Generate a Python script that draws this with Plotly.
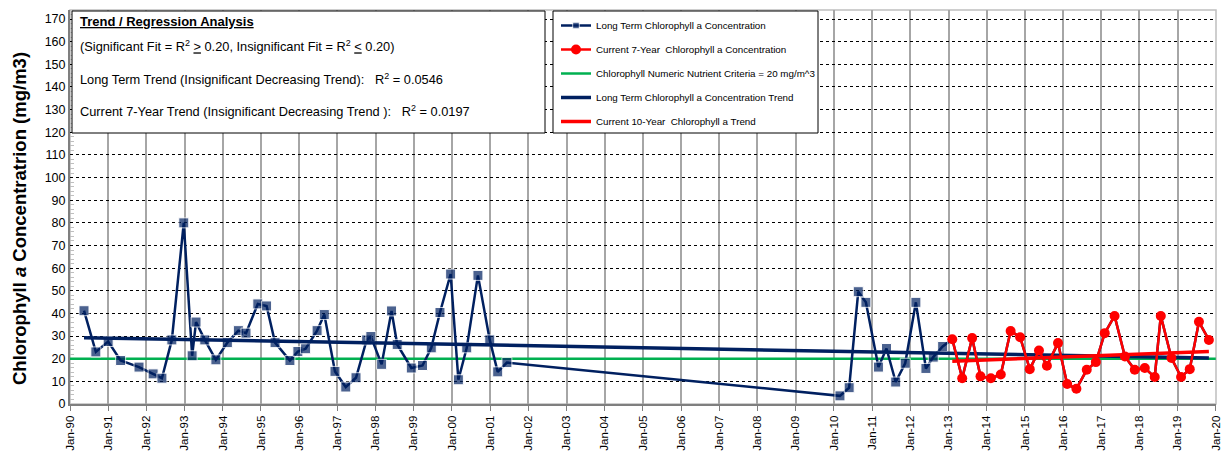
import plotly.graph_objects as go

# ---- Chlorophyll a samples (mg/m3) ----
long_term_dates = [
    "1990-05-15", "1990-09-05", "1991-01-01", "1991-04-30", "1991-10-23",
    "1992-03-06", "1992-05-29", "1992-09-01", "1992-12-24", "1993-03-14",
    "1993-04-20", "1993-07-13", "1993-10-27", "1994-02-14", "1994-05-30",
    "1994-08-11", "1994-12-02", "1995-02-24", "1995-05-16", "1995-10-05",
    "1995-12-20", "1996-03-03", "1996-06-21", "1996-08-29", "1996-12-09",
    "1997-03-22", "1997-06-28", "1997-10-08", "1997-11-17", "1998-02-28",
    "1998-06-03", "1998-07-27", "1998-12-09", "1999-03-26", "1999-06-18",
    "1999-09-09", "1999-12-20", "2000-03-03", "2000-05-22", "2000-09-06",
    "2000-12-28", "2001-03-14", "2001-06-10",
    "2010-02-28", "2010-05-27", "2010-08-22", "2010-11-03", "2011-03-03",
    "2011-05-19", "2011-08-15", "2011-11-14", "2012-02-24", "2012-05-30",
    "2012-08-08", "2012-11-06",
]
long_term_values = [
    41.2, 23.0, 27.6, 19.2, 16.3,
    13.3, 11.4, 28.3, 80.0, 21.3,
    36.2, 28.3, 19.5, 27.1, 32.4,
    31.3, 44.2, 43.3, 27.1, 19.2,
    23.2, 24.4, 32.4, 39.5, 14.4,
    7.5, 11.6, 28.3, 29.8, 17.5,
    41.1, 26.3, 15.9, 17.0, 24.8,
    40.4, 57.4, 10.7, 24.8, 56.8,
    28.3, 14.2, 18.3,
    3.6, 7.2, 49.6, 44.9, 16.3,
    24.5, 9.7, 18.0, 44.9, 15.7,
    20.7, 25.4,
]

recent_dates = [
    "2013-02-06", "2013-05-12", "2013-08-15", "2013-11-03",
    "2014-02-10", "2014-05-16", "2014-08-18", "2014-11-17",
    "2015-02-17", "2015-05-16", "2015-07-31", "2015-11-14",
    "2016-02-10", "2016-05-08", "2016-08-15", "2016-11-10",
    "2017-02-03", "2017-05-08", "2017-08-15", "2017-11-17",
    "2018-02-21", "2018-05-27", "2018-07-24", "2018-11-03",
    "2019-02-03", "2019-04-27", "2019-07-24", "2019-10-27",
]
recent_values = [
    28.6, 11.4, 29.1, 12.2,
    11.4, 13.0, 32.2, 29.5,
    15.4, 23.6, 16.9, 26.9,
    8.8, 6.7, 15.1, 18.5,
    31.3, 38.9, 21.0, 15.1,
    15.9, 11.9, 38.9, 20.3,
    11.9, 15.4, 36.3, 28.3,
]

# Linear trend end points
long_trend_dates = ["1990-05-15", "2019-10-27"]
long_trend_values = [29.3, 20.3]
recent_trend_dates = ["2013-02-06", "2019-10-27"]
recent_trend_values = [18.9, 23.2]

criteria_dates = ["1990-01-01", "2020-01-01"]
criteria_values = [20, 20]

NAVY = "#002060"
RED = "#FF0000"
GREEN = "#00B050"
FONT = "Liberation Sans, Arial, sans-serif"

W, H = 1221, 457
ML, MR, MT, MB = 70, 5, 10, 53
PW, PH = W - ML - MR, H - MT - MB


def px_x(p):
    return (p - ML) / PW


def px_y(p):
    return (H - MB - p) / PH


fig = go.Figure()

# long-term series runs through the whole record; its squares are only
# shown for the years before the current 7-year window
all_dates = long_term_dates + recent_dates
all_values = long_term_values + recent_values
blue_sizes = [10] * len(long_term_dates) + [0] * len(recent_dates)

fig.add_trace(go.Scatter(
    x=criteria_dates, y=criteria_values, mode="lines",
    name="Chlorophyll Numeric Nutrient Criteria = 20 mg/m^3",
    line=dict(color=GREEN, width=2.5), legendrank=3, legendgroup="c",
))
fig.add_trace(go.Scatter(
    x=all_dates, y=all_values, mode="lines+markers",
    name="Long Term Chlorophyll a Concentration",
    line=dict(color=NAVY, width=2.5),
    marker=dict(symbol="square", size=blue_sizes, color=NAVY),
    legendrank=1, legendgroup="a",
))
fig.add_trace(go.Scatter(
    x=long_trend_dates, y=long_trend_values, mode="lines",
    name="Long Term Chlorophyll a Concentration Trend",
    line=dict(color=NAVY, width=3.5), legendrank=4, legendgroup="d",
))
fig.add_trace(go.Scatter(
    x=recent_dates, y=recent_values, mode="lines+markers",
    name="Current 7-Year  Chlorophyll a Concentration",
    line=dict(color=RED, width=2.5),
    marker=dict(symbol="circle", size=10, color=RED),
    legendrank=2, legendgroup="b",
))
fig.add_trace(go.Scatter(
    x=recent_trend_dates, y=recent_trend_values, mode="lines",
    name="Current 10-Year  Chlorophyll a Trend",
    line=dict(color=RED, width=3.5), legendrank=5, legendgroup="e",
))

shapes = [
    # plot frame
    dict(type="rect", xref="paper", yref="paper", x0=0, x1=1, y0=0, y1=1,
         line=dict(color="#BFBFBF", width=1.5), layer="below"),
    # regression text box
    dict(type="rect", xref="paper", yref="paper",
         x0=px_x(72), x1=px_x(545), y0=px_y(133), y1=px_y(11),
         line=dict(color="black", width=1), fillcolor="white", layer="above"),
    # legend box
    dict(type="rect", xref="paper", yref="paper",
         x0=px_x(553), x1=px_x(818), y0=px_y(133), y1=px_y(11),
         line=dict(color="black", width=1), fillcolor="white", layer="above"),
]

box_lines = [
    ("<b><u>Trend / Regression Analysis</u></b>", 22, 13),
    ("(Significant Fit = R<sup>2</sup> <u>></u> 0.20, Insignificant Fit = R<sup>2</sup> <u><</u> 0.20)", 46, 12.8),
    ("Long Term Trend (Insignificant Decreasing Trend):   R<sup>2</sup> = 0.0546", 79, 12.8),
    ("Current 7-Year Trend (Insignificant Decreasing Trend ):   R<sup>2</sup> = 0.0197", 111, 12.8),
]
annotations = [
    dict(text=t, xref="paper", yref="paper", x=px_x(78), y=px_y(yc),
         xanchor="left", yanchor="middle", showarrow=False,
         font=dict(family=FONT, size=fs, color="black"))
    for t, yc, fs in box_lines
]
# y-axis title
annotations.append(dict(
    text="<b>Chlorophyll <i>a</i> Concentratrion (mg/m3)</b>",
    xref="paper", yref="paper", x=px_x(19), y=px_y(219),
    xanchor="center", yanchor="middle", textangle=-90, showarrow=False,
    font=dict(family=FONT, size=18.5, color="black"),
))

fig.update_layout(
    width=W, height=H,
    margin=dict(l=ML, r=MR, t=MT, b=MB, autoexpand=False),
    paper_bgcolor="white", plot_bgcolor="white",
    font=dict(family=FONT, color="black"),
    shapes=shapes, annotations=annotations,
    showlegend=True,
    legend=dict(
        x=px_x(556), y=px_y(11), xanchor="left", yanchor="top",
        bgcolor="rgba(0,0,0,0)", borderwidth=0,
        font=dict(family=FONT, size=9.8, color="black"),
        tracegroupgap=5, itemwidth=30,
    ),
    xaxis=dict(
        type="date", range=["1990-01-01", "2020-01-03"],
        tick0="1990-01-01", dtick="M12", tickformat="%b-%y",
        tickangle=-90, tickfont=dict(size=11.5), ticklabeloverflow="allow",
        automargin=False,
        showgrid=True, gridcolor="#A6A6A6", gridwidth=1.5,
        showline=True, linecolor="#7F7F7F", linewidth=2,
        ticks="outside", ticklen=5, tickcolor="#7F7F7F",
        zeroline=False,
    ),
    yaxis=dict(
        range=[0, 174], tick0=0, dtick=10,
        tickfont=dict(size=12.5), automargin=False,
        showgrid=True, gridcolor="black", gridwidth=1, griddash="dot",
        showline=True, linecolor="#7F7F7F", linewidth=2,
        ticks="", zeroline=False,
        minor=dict(dtick=2, ticks="inside", ticklen=4, tickcolor="#BFBFBF", showgrid=False),
    ),
)

fig.write_html("out.html")
